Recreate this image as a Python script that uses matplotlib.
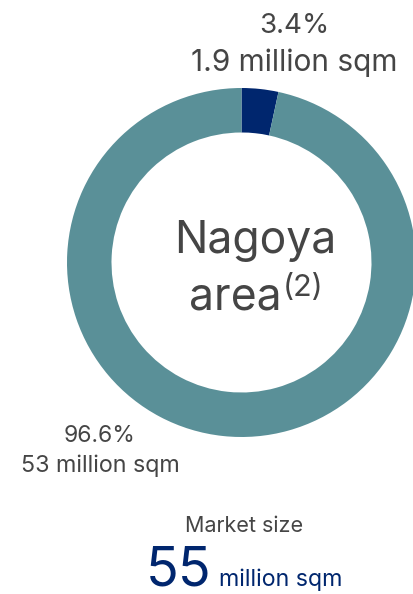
import matplotlib
matplotlib.use("Agg")
import matplotlib.pyplot as plt

# Nagoya area market split
shares = [3.4, 96.6]
share_labels = ["3.4%", "96.6%"]
area_labels = ["1.9 million sqm", "53 million sqm"]
total_size = "55"
total_unit = "million sqm"

NAVY = "#00266e"
TEAL = "#5a9098"
GREY = "#454545"

plt.rcParams["font.family"] = ["Inter", "DejaVu Sans"]

W, H = 414, 594
fig = plt.figure(figsize=(W / 100, H / 100), dpi=100)
ax = fig.add_axes([0, 0, 1, 1])

# donut, pixel coordinates with y pointing up
cx, cy = 241.5, H - 262.5
r_out, ring = 174.5, 44.5
ax.pie(shares, colors=[NAVY, TEAL], startangle=90, counterclock=False,
       center=(cx, cy), radius=r_out,
       wedgeprops=dict(width=ring, linewidth=0))
ax.set_xlim(0, W)
ax.set_ylim(0, H)
ax.set_aspect("equal")
ax.axis("off")


def txt(x, y, s, size, color=GREY, ha="center"):
    ax.text(x, H - y, s, fontsize=size, color=color, ha=ha, va="baseline")


# slice labels
txt(294, 33, share_labels[0], 20)
txt(294, 71, area_labels[0], 21.5)
txt(100, 442, share_labels[1], 16.5)
txt(100, 472, area_labels[1], 16.8)

# centre title
txt(255, 253, "Nagoya", 32)
txt(282, 310, "area", 32, ha="right")
txt(283, 296, "(2)", 22, ha="left")

# market size footer
txt(244, 532, "Market size", 15.5)
txt(212, 586, total_size, 39, color=NAVY, ha="right")
txt(219, 586, total_unit, 16.7, color=NAVY, ha="left")

fig.savefig("out.png", dpi=100)
plt.close(fig)
